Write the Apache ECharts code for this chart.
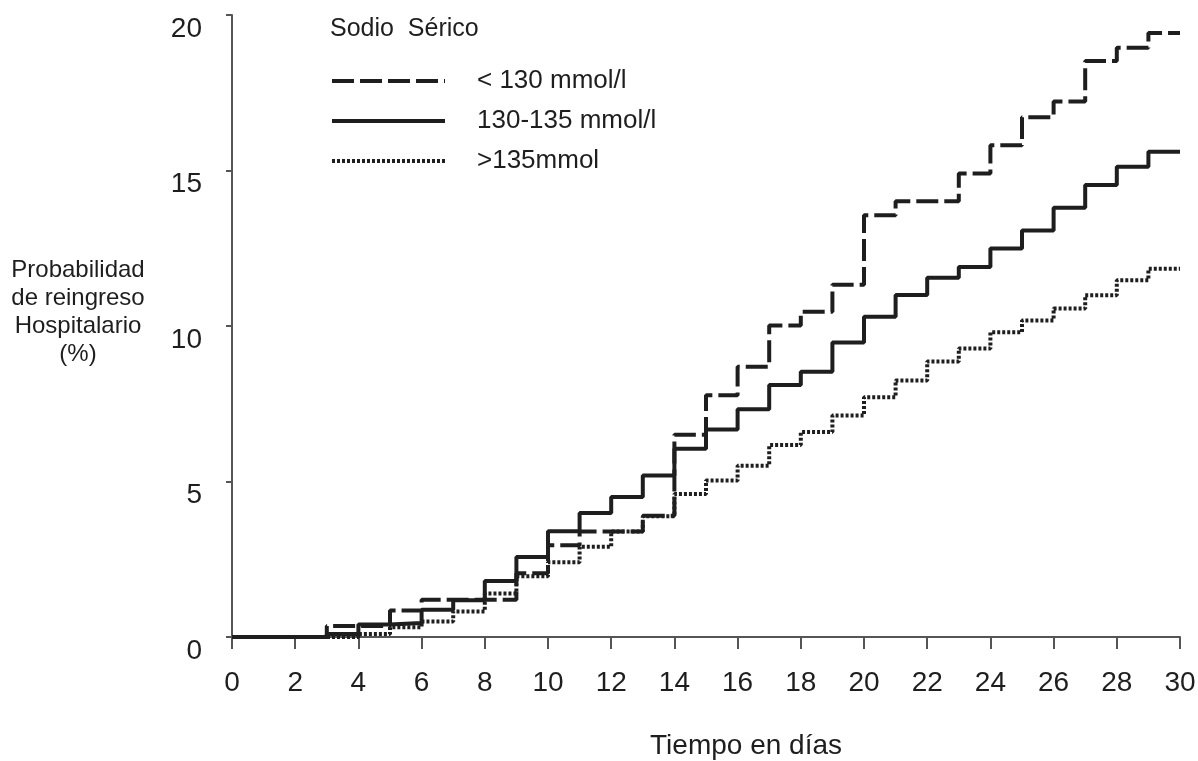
<html>
<head>
<meta charset="utf-8">
<script src="https://cdn.jsdelivr.net/npm/echarts@6/dist/echarts.min.js"></script>
<style>
    html, body { margin: 0; padding: 0; background: #fff; }
    #main { width: 1198px; height: 761px; }
</style>
</head>
<body>
<div id="main"></div>
<script>
    var FONT = '"Liberation Sans", Arial, sans-serif';
    var INK = '#1e1e1e';

    // days 0..30, the value holds from that day to the next
    var dias = [0, 1, 2, 3, 4, 5, 6, 7, 8, 9, 10, 11, 12, 13, 14, 15,
                16, 17, 18, 19, 20, 21, 22, 23, 24, 25, 26, 27, 28, 29, 30];

    var nombres = ['< 130 mmol/l', '130-135 mmol/l', '>135mmol'];

    // < 130 mmol/l (dashed)
    var sodioBajo = [0, 0, 0, 0.35, 0.35, 0.85, 1.2, 1.2, 1.2, 2.05,
                     2.95, 3.39, 3.39, 3.9, 6.5, 7.77, 8.69, 10.02, 10.46, 11.33,
                     13.56, 14.01, 14.01, 14.9, 15.81, 16.71, 17.22, 18.52, 18.95, 19.42, 19.42];
    // 130-135 mmol/l (solid)
    var sodioMedio = [0, 0, 0, 0.1, 0.4, 0.45, 0.88, 1.18, 1.8, 2.57,
                      3.4, 3.99, 4.5, 5.19, 6.05, 6.67, 7.32, 8.1, 8.53, 9.47,
                      10.3, 11.0, 11.55, 11.9, 12.49, 13.07, 13.8, 14.53, 15.12, 15.6, 15.6];
    // >135 mmol (dotted)
    var sodioNormal = [0, 0, 0, 0, 0.1, 0.31, 0.5, 0.82, 1.4, 1.95,
                       2.4, 2.9, 3.39, 3.88, 4.6, 5.03, 5.51, 6.17, 6.59, 7.12,
                       7.71, 8.25, 8.86, 9.28, 9.8, 10.18, 10.56, 10.99, 11.47, 11.84, 11.84];

    function pares(vals) {
        return dias.map(function (d, i) { return [d, vals[i]]; });
    }

    var chart = echarts.init(document.getElementById('main'));

    var tipos = [[22, 6], 'solid', [3, 2]];
    var valores = [sodioBajo, sodioMedio, sodioNormal];

    var series = nombres.map(function (n, i) {
        return {
            name: n,
            type: 'line',
            step: 'end',
            symbol: 'none',
            data: pares(valores[i]),
            lineStyle: { color: INK, width: 4, type: tipos[i] },
            itemStyle: { color: INK }
        };
    });

    var ejeColor = '#555';

    chart.setOption({
        animation: false,
        textStyle: { fontFamily: FONT },
        title: {
            text: 'Sodio  Sérico',
            left: 325,
            top: 12,
            textStyle: { fontSize: 25, fontWeight: 'normal', color: INK, fontFamily: FONT }
        },
        legend: {
            orient: 'vertical',
            left: 325,
            top: 63,
            itemWidth: 113,
            itemHeight: 14,
            itemGap: 14,
            data: nombres,
            itemStyle: { opacity: 0 },
            lineStyle: { width: 4 },
            textStyle: { fontSize: 26, color: INK, fontFamily: FONT, padding: [0, 0, 0, 27] }
        },
        grid: { left: 232, right: 18, top: 15, bottom: 124, outerBoundsMode: 'none' },
        xAxis: {
            type: 'value',
            min: 0,
            max: 30,
            interval: 2,
            axisLine: { show: true, lineStyle: { color: ejeColor, width: 2 } },
            axisTick: { show: true, length: 12, lineStyle: { color: ejeColor, width: 2 } },
            axisLabel: { fontSize: 28, color: INK, margin: 32, fontFamily: FONT },
            splitLine: { show: false }
        },
        yAxis: {
            type: 'value',
            min: 0,
            max: 20,
            interval: 5,
            axisLine: { show: true, lineStyle: { color: ejeColor, width: 2 } },
            axisTick: { show: true, length: 6, lineStyle: { color: ejeColor, width: 2 } },
            axisLabel: {
                fontSize: 28, color: INK, margin: 30, fontFamily: FONT,
                verticalAlign: 'top', lineHeight: 28
            },
            splitLine: { show: false }
        },
        graphic: [
            {
                type: 'text',
                x: 78,
                y: 256,
                style: {
                    text: 'Probabilidad\nde reingreso\nHospitalario\n(%)',
                    font: '24px ' + FONT,
                    lineHeight: 28,
                    align: 'center',
                    fill: INK
                }
            },
            {
                type: 'text',
                x: 746,
                y: 746,
                style: {
                    text: 'Tiempo en días',
                    font: '28px ' + FONT,
                    align: 'center',
                    verticalAlign: 'middle',
                    fill: INK
                }
            }
        ],
        series: series
    });
</script>
</body>
</html>
